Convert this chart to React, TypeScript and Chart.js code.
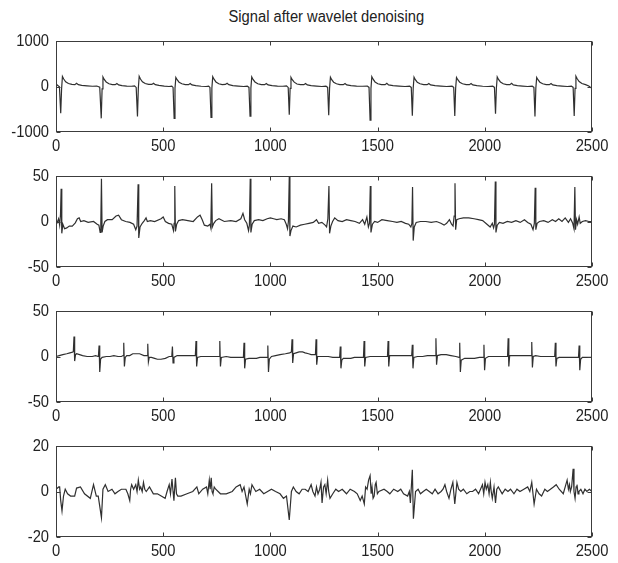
import { useEffect, useRef } from 'react';
import { Chart, registerables } from 'chart.js';

Chart.register(...registerables);

const TITLE = 'Signal after wavelet denoising';

// Shared sample axis
const xTickValues = [0, 500, 1000, 1500, 2000, 2500];

// Y tick values per channel
const ch1YTicks = [-1000, 0, 1000];
const ch2YTicks = [-50, 0, 50];
const ch3YTicks = [-50, 0, 50];
const ch4YTicks = [-20, 0, 20];

// Channel 1: [sample, amplitude]
const ch1: number[][] = [
  [0, 0], [5, 35], [10, 15], [16, -5], [22, -590], [26, -60], [30, 220], [36, 165], [45, 105], [58, 65], [74, 45], [88, 40], [96, 70], [104, 40], [120, 25], [145, 15], [170, 5], [190, 10], [204, -15],
  [211, -700], [215, -50], [219, 210], [225, 155], [234, 100], [247, 60], [263, 40], [276, 40], [284, 65], [292, 35], [308, 20], [330, 10], [352, 5], [366, 15], [374, -20],
  [380, -660], [384, -40], [388, 225], [394, 165], [403, 105], [416, 65], [432, 45], [447, 45], [455, 70], [463, 40], [480, 25], [505, 10], [527, 0], [540, 10], [546, -20],
  [551, -700], [555, -40], [559, 200], [565, 150], [574, 95], [587, 60], [603, 40], [618, 40], [626, 65], [634, 35], [652, 20], [677, 5], [700, 0], [712, 10], [718, -20],
  [723, -680], [727, -40], [731, 215], [737, 160], [746, 100], [759, 60], [775, 40], [790, 45], [798, 70], [806, 40], [825, 20], [850, 10], [875, 0], [892, 10], [900, -20],
  [905, -650], [909, -40], [913, 210], [919, 155], [928, 100], [941, 60], [958, 40], [973, 40], [981, 65], [989, 35], [1008, 20], [1033, 10], [1058, 5], [1075, 15], [1083, -20],
  [1088, -620], [1092, -40], [1096, 200], [1102, 150], [1111, 95], [1124, 55], [1140, 40], [1156, 40], [1164, 65], [1172, 35], [1190, 20], [1215, 10], [1240, 0], [1259, 10], [1267, -20],
  [1272, -630], [1276, -40], [1280, 205], [1286, 150], [1295, 95], [1308, 60], [1324, 40], [1340, 40], [1348, 65], [1356, 35], [1376, 20], [1402, 10], [1430, 5], [1452, 10], [1460, -20],
  [1465, -740], [1469, -50], [1473, 215], [1479, 160], [1488, 100], [1501, 60], [1518, 40], [1535, 40], [1543, 70], [1551, 35], [1572, 20], [1600, 10], [1628, 0], [1649, 10], [1657, -20],
  [1662, -640], [1666, -40], [1670, 205], [1676, 150], [1685, 95], [1698, 60], [1715, 40], [1731, 40], [1739, 65], [1747, 35], [1768, 20], [1795, 10], [1822, 0], [1847, 10], [1855, -20],
  [1860, -650], [1864, -40], [1868, 200], [1874, 150], [1883, 95], [1896, 60], [1913, 40], [1928, 40], [1936, 65], [1944, 35], [1963, 20], [1990, 5], [2015, 0], [2037, 10], [2045, -20],
  [2050, -600], [2054, -40], [2058, 210], [2064, 155], [2073, 100], [2086, 60], [2102, 40], [2117, 40], [2125, 70], [2133, 35], [2152, 20], [2176, 10], [2200, 0], [2221, 10], [2229, -20],
  [2234, -660], [2238, -40], [2242, 200], [2248, 150], [2257, 95], [2270, 60], [2286, 40], [2301, 40], [2309, 65], [2317, 35], [2336, 20], [2360, 10], [2385, 0], [2404, 10], [2412, -20],
  [2417, -650], [2421, -40], [2425, 225], [2431, 170], [2440, 110], [2453, 65], [2470, 40], [2485, 10], [2495, -25], [2500, -30],
];

// Channel 2
const ch2: number[][] = [
  [0, 2], [6, -1], [12, 3], [17, -4], [21, 8], [24, 36], [27, -13], [32, -3], [40, -8], [50, -7], [62, -5], [76, -5], [90, -1.5], [100, 3], [108, 4], [115, 0], [130, 1], [150, -1], [175, 0], [192, -3], [200, -4], [206, -12], [209, -3],
  [212, 47], [215, -12], [220, -5], [228, 0], [240, 2], [262, 2], [280, 6], [292, 7], [305, 2], [325, 0], [345, -1], [362, -3], [372, -9], [378, -5],
  [383, 41], [386, -18], [392, -6], [402, -2], [412, 1], [420, 4], [426, 0], [440, 1], [460, 0], [490, 3], [500, 5], [510, 0], [525, -2], [540, -3], [548, -10], [551, -2],
  [554, 39], [557, -11], [563, -3], [572, 1], [590, 2], [615, 1], [640, 0], [660, 5], [672, 7], [682, 2], [692, -4], [708, -5], [718, -3], [722, -7],
  [726, 42], [729, -6], [736, -2], [745, 1], [760, 3], [785, 0], [815, 1], [840, 0], [862, 3], [872, 9], [880, 2], [890, -2], [898, -10], [902, -4],
  [906, 47], [909, -12], [915, -3], [925, 1], [945, 2], [965, 1], [985, 3], [1000, 4], [1015, 3], [1030, 2], [1050, 3], [1065, 2], [1074, -3], [1080, -8], [1084, 0],
  [1088, 49], [1091, -16], [1096, -10], [1105, -5], [1120, -6], [1140, -4], [1160, -3], [1180, -2], [1200, -1], [1215, 2], [1225, -2], [1240, -1], [1255, -4], [1262, -6], [1268, 3],
  [1273, 39], [1276, -13], [1282, -5], [1290, 0], [1300, 4], [1315, 1], [1335, 0], [1355, 2], [1375, 1], [1395, 0], [1415, -2], [1430, 2], [1440, -3], [1450, 5], [1457, -6], [1462, -2],
  [1466, 39], [1469, -12], [1476, -3], [1486, 0], [1500, -1], [1520, 2], [1545, 1], [1570, 0], [1590, -1], [1610, 0], [1630, -2], [1645, -3], [1655, -6], [1660, -2],
  [1663, 38], [1666, -21], [1671, -6], [1680, -1], [1700, 0], [1725, 0], [1750, -1], [1775, 0], [1795, -2], [1810, -4], [1822, -2], [1835, 2], [1845, -3], [1852, -5], [1857, 6],
  [1861, 42], [1864, -9], [1869, 2], [1880, 3], [1900, 4], [1925, 4], [1950, 3], [1970, 2], [1990, 1], [2010, -3], [2025, -6], [2035, -2], [2041, -7], [2045, -3],
  [2049, 44], [2052, -12], [2058, -4], [2068, -1], [2085, -2], [2105, 0], [2125, -1], [2145, 1], [2165, -1], [2185, 2], [2200, -1], [2215, -3], [2225, -9], [2231, -2],
  [2235, 37], [2238, -9], [2244, -2], [2255, 0], [2275, 1], [2295, -1], [2315, 2], [2330, 0], [2345, 3], [2360, 0], [2375, 4], [2390, -1], [2400, 3], [2410, -2], [2416, -8],
  [2420, 38], [2423, -9], [2428, 2], [2433, -3], [2440, 5], [2445, -2], [2455, 0], [2470, 1], [2485, 0], [2500, 0],
];

// Channel 3
const ch3: number[][] = [
  [0, 0], [15, 1], [32, 2], [50, 3], [65, 4], [79, 5], [81, 6], [84, 22], [87, -5], [91, 2], [96, 3], [110, 2], [124, 1], [145, 0], [169, 0], [185, 1], [196, 0],
  [198, 1], [201, 12], [204, -17], [208, -3], [215, -1], [235, 0], [252, 0], [270, 1], [289, 0], [305, 0],
  [313, 1], [316, 15], [319, -11], [323, -1], [330, 1], [344, 1], [358, 3], [372, 3], [390, 3], [410, 1],
  [425, 1], [428, 14], [431, -6], [435, -1], [445, -1], [460, -2], [473, -3], [490, -3], [510, -2], [528, 0],
  [540, 0], [543, 11], [546, -7], [550, -1], [565, 1], [590, 1], [620, 1], [640, 1],
  [650, 1], [653, 17], [656, -11], [660, -1], [675, 0], [693, 0], [720, 0], [745, 0],
  [761, 0], [764, 17], [767, -11], [771, -1], [794, 0], [815, -1], [840, -1], [860, -1],
  [874, -1], [877, 15], [880, -13], [884, -3], [900, -2], [914, -2], [935, -2], [951, -1], [970, -1],
  [985, -1], [988, 12], [991, -17], [995, -3], [1005, 0], [1024, 1], [1045, 2], [1070, 3], [1090, 4],
  [1098, 5], [1101, 19], [1104, -7], [1108, 3], [1120, 4], [1134, 5], [1150, 5], [1162, 4], [1178, 3], [1190, 2], [1203, 2],
  [1210, 2], [1213, 19], [1216, -9], [1220, 0], [1232, 0], [1245, 0], [1270, 0], [1291, -1], [1310, -1],
  [1323, -1], [1326, 11], [1329, -13], [1333, -4], [1340, -2], [1355, -2], [1375, -2], [1392, -1], [1415, -1],
  [1434, -1], [1437, 17], [1440, -11], [1444, -1], [1465, 0], [1480, 0], [1502, 0], [1525, 0],
  [1546, 0], [1549, 17], [1552, -11], [1556, 1], [1576, 1], [1600, 1], [1621, 1], [1645, 1],
  [1659, 1], [1662, 13], [1665, -13], [1669, -1], [1686, 0], [1710, 0], [1732, 1], [1755, 1],
  [1769, 1], [1772, 20], [1775, -9], [1779, 1], [1796, 2], [1820, 2], [1842, 1], [1865, 0],
  [1880, -1], [1883, 15], [1886, -17], [1890, -4], [1906, -2], [1930, -2], [1952, -2], [1975, -1],
  [1993, -1], [1996, 13], [1999, -15], [2003, -2], [2017, 0], [2040, 0], [2063, 0], [2085, 0],
  [2106, 0], [2109, 20], [2112, -11], [2116, 1], [2127, 1], [2150, 1], [2173, 1], [2195, 1],
  [2216, 1], [2219, 16], [2222, -12], [2226, 0], [2237, 1], [2260, 0], [2283, 0], [2305, 0],
  [2326, 0], [2329, 15], [2332, -11], [2336, -2], [2347, -1], [2370, -1], [2393, -1], [2415, -1],
  [2437, -1], [2440, 12], [2443, -15], [2447, -3], [2455, -1], [2467, -1], [2485, -1], [2500, -1],
];

// Channel 4
const ch4: number[][] = [
  [0, 1], [13, 2], [17, 2], [22, -4], [28, -8.5], [35, -2], [43, 1], [54, -1], [68, -2], [87, -2], [96, 1.5], [114, 2], [133, -1], [160, -3], [175, 3], [188, -2], [197, -2],
  [212, -11.5], [219, 1], [230, 3], [243, 0], [261, 1], [275, -1], [289, 0], [305, 1], [326, 1], [335, -1], [344, -4], [348, 1], [353, 3], [362, 1], [372, 3], [378, 0], [384, 5], [390, 1],
  [395, 2], [402, 0], [408, 4], [414, 1], [421, 0], [436, 2], [454, -1], [473, -1],
  [509, -3], [518, 0], [528, 3], [534, -1], [541, 5.5], [546, 0], [550, -4], [554, 2], [557, 6], [562, -1], [568, -2], [583, -2], [611, -1], [638, 0], [657, 2], [666, -1], [684, 1],
  [702, 2], [708, -1], [715, 5], [719, 1], [724, 6], [728, 0], [732, -1], [738, 2], [745, 1],
  [767, -1], [794, -1], [822, 0], [840, 2], [859, 3], [868, 0], [877, 2], [885, -2], [892, -5.5], [901, 1], [907, -1], [914, 3], [932, 0], [950, 1], [969, -1], [987, 0], [1005, 1], [1024, 0], [1045, -1], [1061, -3],
  [1075, -2], [1088, -12.5], [1098, 0], [1107, 2], [1120, 0], [1134, -1], [1148, 1], [1162, 1], [1176, 0], [1190, 3], [1198, 0], [1208, -2], [1215, 2], [1222, -1], [1230, 1], [1236, 4],
  [1241, -5], [1248, 2], [1254, 3], [1260, -1], [1267, 5], [1272, 0], [1278, -3], [1291, -1], [1305, 1], [1318, 0], [1335, 1], [1355, -1], [1372, 1], [1392, 0], [1405, -1],
  [1419, -4], [1428, -2], [1438, -5.5], [1444, 2], [1451, 1], [1458, 5], [1465, 7], [1470, -1], [1474, 2], [1479, -3], [1484, -2], [1489, 3], [1493, 4], [1499, -1], [1506, 0],
  [1530, 1], [1545, 0], [1557, -1], [1575, 1], [1594, 0], [1608, 1], [1621, -1], [1640, -2], [1648, 0], [1653, -5],
  [1662, 9.5], [1667, -12], [1677, 0], [1689, 1], [1700, -1], [1713, 0], [1727, 1], [1741, 0], [1755, -1], [1768, 1], [1782, -1], [1796, 0], [1805, 1], [1814, 3], [1822, 0], [1833, -3],
  [1842, 1], [1851, 4], [1860, -5.5], [1870, 4], [1878, 1], [1888, 0], [1900, 1], [1916, -1], [1930, 0], [1943, 0], [1957, 1],
  [1971, -1], [1980, 1], [1989, 3], [1995, -1], [2001, 4], [2007, 1], [2014, 3], [2020, -1], [2026, 4], [2030, 0], [2035, -3], [2043, 2], [2050, -5], [2056, 1], [2063, 2],
  [2081, -1], [2095, 1], [2108, 0], [2120, 1], [2136, -1], [2150, 1], [2164, 0], [2182, 1], [2200, 2], [2210, 0], [2219, 4], [2230, -5.5], [2241, 1], [2253, -1], [2265, -2],
  [2280, 1], [2292, 0], [2306, 1], [2320, 2], [2333, 3], [2347, 1], [2366, -1], [2375, 2], [2384, 5], [2390, 1], [2395, 3], [2399, 0], [2405, 2],
  [2412, 10], [2416, 0], [2421, -3], [2426, 2], [2430, 3], [2435, -1], [2439, 0], [2448, 1], [2458, -1], [2467, 1], [2476, 0], [2488, 1], [2500, 0],
];

const FONT_FAMILY = "'Liberation Sans', Arial, sans-serif";
const FONT_SIZE = 16;
const TEXT_SQUEEZE = 0.92; // labels are set slightly narrow
const TEXT_COLOR = '#222';
const AXIS_COLOR = '#3c3c3c';
const TRACE_COLOR = '#303030';

const WIDTH = 618;
const HEIGHT = 563;
const PLOT_LEFT = 56;
const PLOT_RIGHT = 592;
const PLOT_H = 91;
const PAD_TOP = 12;
const X_AXIS_H = 26;
const Y_AXIS_W = 50;
const TICK_LEN = 4;
const X_LABEL_GAP = 15;
const Y_LABEL_GAP = 7;

const panels = [
  { points: ch1, yTicks: ch1YTicks, top: 41 },
  { points: ch2, yTicks: ch2YTicks, top: 176 },
  { points: ch3, yTicks: ch3YTicks, top: 311 },
  { points: ch4, yTicks: ch4YTicks, top: 446 },
];

function drawLabel(ctx: CanvasRenderingContext2D, text: string, x: number, y: number, align: CanvasTextAlign) {
  ctx.save();
  ctx.translate(x, y);
  ctx.scale(TEXT_SQUEEZE, 1);
  ctx.textAlign = align;
  ctx.textBaseline = 'middle';
  ctx.fillText(text, 0, 0);
  ctx.restore();
}

// Box around the plot area, inward ticks on all four sides, and tick labels
const boxTicks = {
  id: 'boxTicks',
  afterDatasetsDraw(chart: any) {
    const { ctx, chartArea, scales } = chart;
    const { left, right, top, bottom } = chartArea;
    ctx.save();
    ctx.strokeStyle = AXIS_COLOR;
    ctx.lineWidth = 1;
    const l = Math.round(left) + 0.5;
    const r = Math.round(right) - 0.5;
    const t = Math.round(top) + 0.5;
    const b = Math.round(bottom) - 0.5;
    ctx.strokeRect(l, t, r - l, b - t);
    ctx.beginPath();
    for (const v of xTickValues) {
      const px = Math.round(scales.x.getPixelForValue(v)) + 0.5;
      ctx.moveTo(px, b);
      ctx.lineTo(px, b - TICK_LEN);
      ctx.moveTo(px, t);
      ctx.lineTo(px, t + TICK_LEN);
    }
    for (const tk of scales.y.ticks) {
      const py = Math.round(scales.y.getPixelForValue(tk.value)) + 0.5;
      ctx.moveTo(l, py);
      ctx.lineTo(l + TICK_LEN, py);
      ctx.moveTo(r, py);
      ctx.lineTo(r - TICK_LEN, py);
    }
    ctx.stroke();

    ctx.fillStyle = TEXT_COLOR;
    ctx.font = `${FONT_SIZE}px ${FONT_FAMILY}`;
    for (const v of xTickValues) {
      drawLabel(ctx, String(v), scales.x.getPixelForValue(v), bottom + X_LABEL_GAP, 'center');
    }
    for (const tk of scales.y.ticks) {
      drawLabel(ctx, String(tk.value), left - Y_LABEL_GAP, scales.y.getPixelForValue(tk.value) + 0.5, 'right');
    }
    ctx.restore();
  },
};

function Panel({ points, yTicks, top }: { points: number[][]; yTicks: number[]; top: number }) {
  const ref = useRef<HTMLCanvasElement>(null);

  useEffect(() => {
    if (!ref.current) return;
    const chart = new Chart(ref.current, {
      type: 'line',
      data: {
        datasets: [
          {
            data: points.map(([x, y]) => ({ x, y })),
            borderColor: TRACE_COLOR,
            borderWidth: 1.2,
            pointRadius: 0,
            tension: 0,
            fill: false,
          },
        ],
      },
      options: {
        animation: false,
        responsive: false,
        events: [],
        layout: {
          padding: { top: PAD_TOP, left: PLOT_LEFT - Y_AXIS_W, right: WIDTH - PLOT_RIGHT, bottom: 0 },
        },
        plugins: {
          legend: { display: false },
          tooltip: { enabled: false },
        },
        scales: {
          x: {
            type: 'linear',
            min: 0,
            max: 2500,
            grid: { display: false, drawTicks: false },
            border: { display: false },
            ticks: { display: false },
            afterFit: (s: any) => {
              s.height = X_AXIS_H;
            },
          },
          y: {
            type: 'linear',
            min: yTicks[0],
            max: yTicks[yTicks.length - 1],
            grid: { display: false, drawTicks: false },
            border: { display: false },
            ticks: { display: false },
            afterBuildTicks: (s: any) => {
              s.ticks = yTicks.map((v) => ({ value: v }));
            },
            afterFit: (s: any) => {
              s.width = Y_AXIS_W;
            },
          },
        },
      },
      plugins: [boxTicks],
    });
    return () => chart.destroy();
  }, [points, yTicks]);

  const h = PAD_TOP + PLOT_H + X_AXIS_H;
  return (
    <canvas
      ref={ref}
      width={WIDTH}
      height={h}
      style={{ position: 'absolute', left: 0, top: top - PAD_TOP, width: WIDTH, height: h }}
    />
  );
}

export default function App() {
  return (
    <div style={{ position: 'absolute', left: 0, top: 0, width: WIDTH, height: HEIGHT, background: '#fff', overflow: 'hidden' }}>
      <div
        style={{
          position: 'absolute',
          left: 0,
          width: PLOT_LEFT + PLOT_RIGHT + 4,
          top: 8,
          textAlign: 'center',
          fontFamily: FONT_FAMILY,
          fontSize: FONT_SIZE,
          lineHeight: '18px',
          color: TEXT_COLOR,
        }}
      >
        <span style={{ display: 'inline-block', transform: `scaleX(${TEXT_SQUEEZE})` }}>{TITLE}</span>
      </div>
      {panels.map((p, i) => (
        <Panel key={i} points={p.points} yTicks={p.yTicks} top={p.top} />
      ))}
    </div>
  );
}
